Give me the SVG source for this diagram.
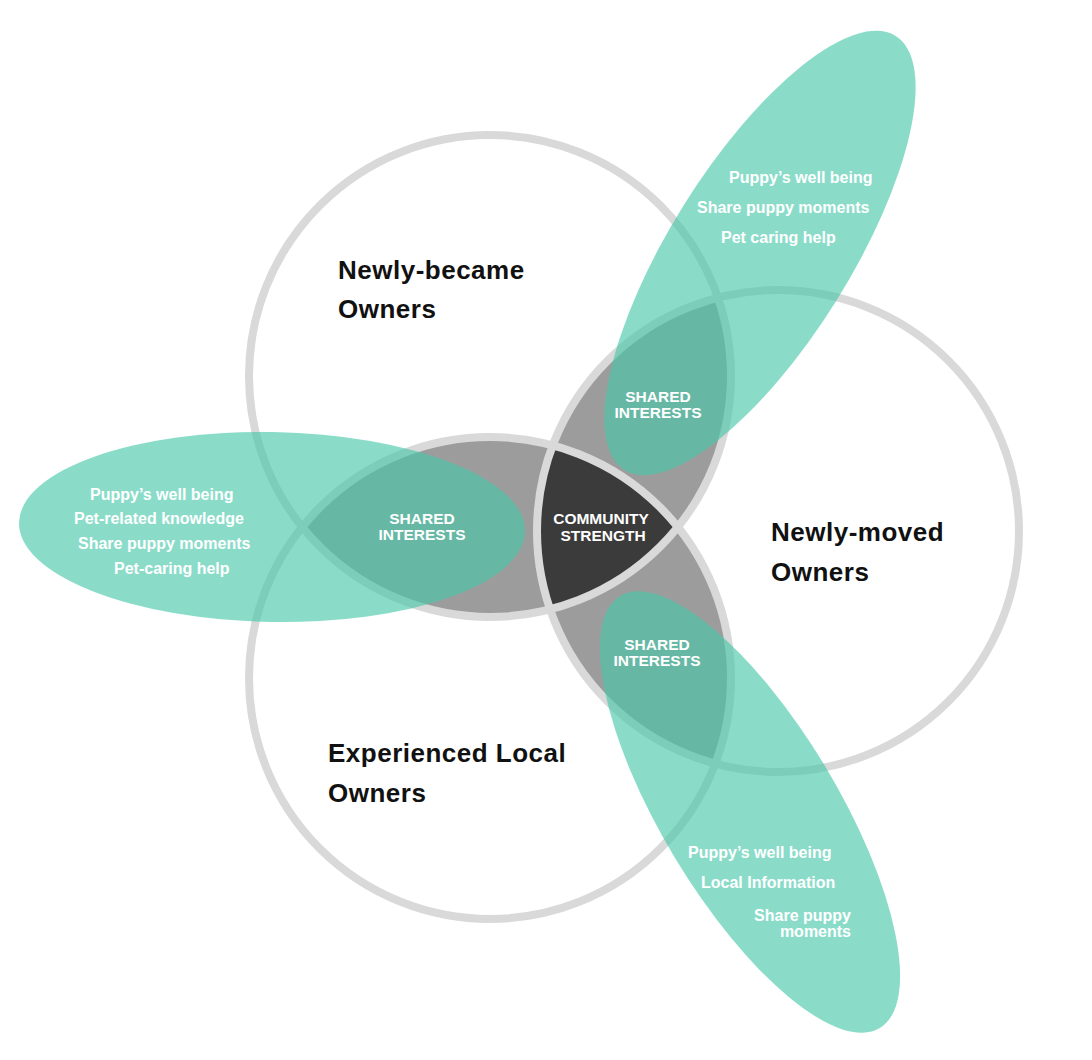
<svg xmlns="http://www.w3.org/2000/svg" width="1092" height="1060" viewBox="0 0 1092 1060">
<style>
.ring{fill:none;stroke:#d9d9d9;stroke-width:8}
.lens{fill:#9c9c9c}
.core{fill:#3b3b3b}
.leaf{fill:#48c9ab;fill-opacity:0.64}
.head{font-family:"Liberation Sans",Arial,sans-serif;font-weight:bold;font-size:26px;fill:#111;letter-spacing:0.5px}
.tag{font-family:"Liberation Sans",Arial,sans-serif;font-weight:bold;font-size:15.5px;fill:#fff;text-anchor:middle}
.note{font-family:"Liberation Sans",Arial,sans-serif;font-weight:bold;font-size:16px;fill:#fff}
</style>
<defs>
<clipPath id="clipA"><circle cx="490" cy="376" r="241"/></clipPath>
<clipPath id="clipB"><circle cx="778" cy="531" r="241"/></clipPath>
<clipPath id="clipC"><circle cx="490" cy="678" r="241"/></clipPath>
</defs>
<rect width="1092" height="1060" fill="#ffffff"/>

<g id="overlaps">
<g clip-path="url(#clipA)">
<circle class="lens" cx="778" cy="531" r="241"/>
<circle class="lens" cx="490" cy="678" r="241"/>
</g>
<g clip-path="url(#clipB)">
<circle class="lens" cx="490" cy="678" r="241"/>
</g>
<g id="core" clip-path="url(#clipA)">
<g clip-path="url(#clipB)">
<circle class="core" cx="490" cy="678" r="241"/>
</g>
</g>
</g>

<g id="circle-newly-became">
<circle class="ring" cx="490" cy="376" r="241"/>
<text class="head" x="338" y="279">Newly-became</text>
<text class="head" x="338" y="318">Owners</text>
</g>
<g id="circle-newly-moved">
<circle class="ring" cx="778" cy="531" r="241"/>
<text class="head" x="771" y="541">Newly-moved</text>
<text class="head" x="771" y="581">Owners</text>
</g>
<g id="circle-experienced">
<circle class="ring" cx="490" cy="678" r="241"/>
<text class="head" x="328" y="762">Experienced Local</text>
<text class="head" x="328" y="802">Owners</text>
</g>

<g id="leaf-left">
<ellipse class="leaf" cx="272" cy="527" rx="253" ry="95" transform="rotate(1 272 527)"/>
<text class="note" x="90" y="500">Puppy’s well being</text>
<text class="note" x="74" y="524">Pet-related knowledge</text>
<text class="note" x="78" y="549">Share puppy moments</text>
<text class="note" x="114" y="574">Pet-caring help</text>
<text class="tag" x="422" y="524">SHARED</text>
<text class="tag" x="422" y="540">INTERESTS</text>
</g>
<g id="leaf-upper">
<ellipse class="leaf" cx="760" cy="253" rx="256" ry="90" transform="rotate(-58 760 253)"/>
<text class="note" x="729" y="183">Puppy’s well being</text>
<text class="note" x="697" y="213">Share puppy moments</text>
<text class="note" x="721" y="243">Pet caring help</text>
<text class="tag" x="658" y="402">SHARED</text>
<text class="tag" x="658" y="418">INTERESTS</text>
</g>
<g id="leaf-lower">
<ellipse class="leaf" cx="750" cy="812" rx="252" ry="88" transform="rotate(59 750 812)"/>
<text class="note" x="688" y="858">Puppy’s well being</text>
<text class="note" x="701" y="888">Local Information</text>
<text class="note" x="851" y="921" text-anchor="end">Share puppy</text>
<text class="note" x="851" y="937" text-anchor="end">moments</text>
<text class="tag" x="657" y="650">SHARED</text>
<text class="tag" x="657" y="666">INTERESTS</text>
</g>
<g id="center-label">
<text class="tag" x="601" y="524">COMMUNITY</text>
<text class="tag" x="603" y="541">STRENGTH</text>
</g>
</svg>
